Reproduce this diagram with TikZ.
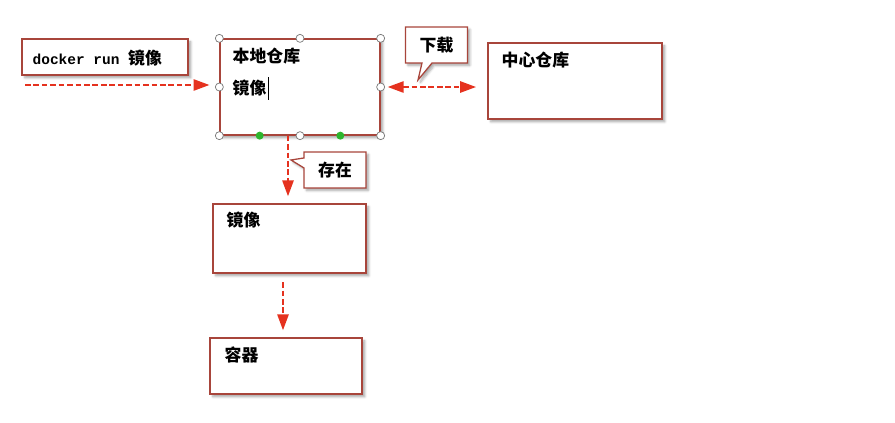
\documentclass[tikz,border=0pt]{standalone}
\usepackage{fontspec}
\usetikzlibrary{shapes,shapes.callouts,arrows.meta,positioning,calc,shadows.blur}
\newfontfamily\cjk{Noto Sans CJK SC}
\newfontfamily\mono{Liberation Mono}
\definecolor{boxline}{HTML}{A8453B}
\definecolor{arrowred}{HTML}{E5321F}
\definecolor{handle}{HTML}{777777}
\definecolor{greendot}{HTML}{2DB52D}

\begin{document}
\begin{tikzpicture}[x=0.025cm, y=-0.025cm,
  box/.style={draw=boxline, fill=white, line width=0.9pt, inner sep=0pt,
    blur shadow={shadow blur steps=5, shadow xshift=0.7mm, shadow yshift=-0.7mm, shadow opacity=35}},
  txt/.style={font=\cjk\fontsize{12}{14}\selectfont\bfseries, inner sep=0pt, anchor=west},
  tip/.style={rectangle callout, draw=boxline, fill=white, line width=0.9pt,
    minimum width=1.55cm, minimum height=0.9cm, inner sep=0pt,
    font=\cjk\fontsize{12}{14}\selectfont\bfseries,
    blur shadow={shadow blur steps=5, shadow xshift=0.6mm, shadow yshift=-0.6mm, shadow opacity=35}},
  flow/.style={arrowred, line width=1.5pt, dash pattern=on 4pt off 2pt,
    -{Triangle[length=0.4cm, width=0.28cm]}},
  knob/.style={circle, draw=handle, fill=white, line width=0.5pt, minimum size=0.2cm, inner sep=0pt},
  gknob/.style={circle, fill=greendot, minimum size=0.2cm, inner sep=0pt}
]
  \useasboundingbox (0,0) rectangle (895,422);

  % Boxes
  \node[box, minimum width=4.15cm, minimum height=0.9cm] (run) at (105,57) {};
  \node[box, minimum width=4.0cm, minimum height=2.4cm] (local) at (300,87) {};
  \node[box, minimum width=4.35cm, minimum height=1.9cm] (hub) at (575,81) {};
  \node[box, minimum width=3.825cm, minimum height=1.725cm] (img) at (289.5,238.5) {};
  \node[box, minimum width=3.8cm, minimum height=1.4cm] (cont) at (286,366) {};

  % Box texts
  \node[txt] (runtxt) at ([shift={(11,1)}]run.west)
    {{\mono\fontsize{10.3}{12}\selectfont\bfseries docker run }镜像};
  \node[txt] (localtxt) at ([shift={(13,18)}]local.north west) {本地仓库};
  \node[txt] (localimg) at ([shift={(13,50)}]local.north west) {镜像};
  \node[txt] (hubtxt) at ([shift={(14,18)}]hub.north west) {中心仓库};
  \node[txt] (imgtxt) at ([shift={(14,17)}]img.north west) {镜像};
  \node[txt] (conttxt) at ([shift={(15,18)}]cont.north west) {容器};

  % Text cursor
  \draw[black, line width=0.5pt] ([xshift=1.5pt, yshift=-8pt]localimg.east) -- ([xshift=1.5pt, yshift=8pt]localimg.east);

  % Callouts
  \node[tip, callout absolute pointer={(418,80)}] (down) at (436.5,45) {下载};
  \node[tip, callout absolute pointer={(291,160)}] (exist) at (335,170) {存在};

  % Arrows
  \coordinate (start) at (25,85);
  \draw[flow, shorten >=7pt] (start) -- (start -| local.west);
  \draw[flow, {Triangle[length=0.4cm, width=0.28cm]}-{Triangle[length=0.4cm, width=0.28cm]},
    shorten <=5pt, shorten >=8pt] (local.east) -- (local.east -| hub.west);
  \draw[flow, shorten >=5pt] (local.south -| 288,0) -- (img.north -| 288,0);
  \draw[flow, shorten <=6pt, shorten >=5pt] (img.south -| 283,0) -- (cont.north -| 283,0);

  % Selection handles
  \foreach \a in {north west, north, north east, west, east, south west, south, south east}
    \node[knob] at (local.\a) {};
  \node[gknob] at ($(local.south west)!0.25!(local.south east)$) {};
  \node[gknob] at ($(local.south west)!0.75!(local.south east)$) {};
\end{tikzpicture}
\end{document}
